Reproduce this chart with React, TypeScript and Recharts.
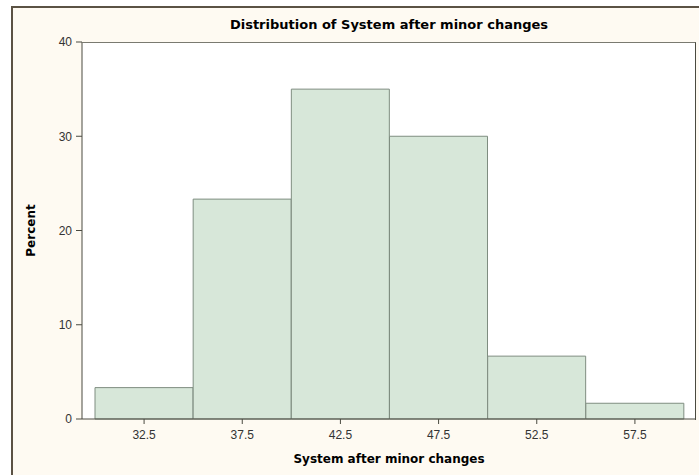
import React from 'react'
import { BarChart, Bar, XAxis, YAxis, CartesianGrid } from 'recharts'

const midpoints = ['32.5', '37.5', '42.5', '47.5', '52.5', '57.5']
const percents = [3.33, 23.33, 35, 30, 6.67, 1.67]
const yTicks = [0, 10, 20, 30, 40]

const data = midpoints.map((m, i) => ({ mid: m, pct: percents[i] }))

const tickStyle = { fontFamily: '"Liberation Sans", Arial, sans-serif', fontSize: 12, fill: '#333' }
const labelFont = '"DejaVu Sans", Verdana, sans-serif'

export default function App() {
  return (
    <div style={{ position: 'absolute', left: 0, top: 0, width: 699, height: 475, background: '#fff', overflow: 'hidden' }}>
      <div
        style={{
          position: 'absolute', left: 11, top: 6, width: 700, height: 480,
          background: '#fefaf2', borderLeft: '2px solid #5b5244', borderTop: '2px solid #5b5244',
        }}
      />
      <div
        style={{
          position: 'absolute', left: 82, width: 614, top: 17, textAlign: 'center',
          fontFamily: labelFont, fontWeight: 'bold', fontSize: 13, color: '#000',
        }}
      >
        Distribution of System after minor changes
      </div>
      <div style={{ position: 'absolute', left: 0, top: 0 }}>
        <BarChart
          width={699}
          height={475}
          data={data}
          margin={{ top: 42, right: 3, bottom: 0, left: 0 }}
          barCategoryGap={0}
          barGap={0}
        >
          <CartesianGrid horizontal={false} vertical={false} fill="#ffffff" />
          <XAxis
            dataKey="mid"
            padding={{ left: 13, right: 12 }}
            height={56}
            tickSize={5}
            tickMargin={6}
            tick={tickStyle}
            stroke="#4a4a40"
            label={{
              value: 'System after minor changes', position: 'insideBottom', offset: 12,
              style: { fontFamily: labelFont, fontWeight: 'bold', fontSize: 12, fill: '#000' },
            }}
          />
          <YAxis
            domain={[0, 40]}
            ticks={yTicks}
            width={82}
            tickSize={6}
            tickMargin={4}
            tick={tickStyle}
            stroke="#4a4a40"
            label={{
              value: 'Percent', angle: -90, position: 'insideLeft', offset: 31,
              style: { fontFamily: labelFont, fontWeight: 'bold', fontSize: 12, fill: '#000', textAnchor: 'middle' },
            }}
          />
          <Bar dataKey="pct" fill="#d7e7d9" stroke="#7f8d80" strokeWidth={1} isAnimationActive={false} />
        </BarChart>
      </div>
      <div
        style={{
          position: 'absolute', left: 82, top: 42, width: 614, height: 378, boxSizing: 'border-box',
          borderTop: '1px solid #7a7a70', borderRight: '1px solid #4a4a40',
          pointerEvents: 'none',
        }}
      />
    </div>
  )
}
